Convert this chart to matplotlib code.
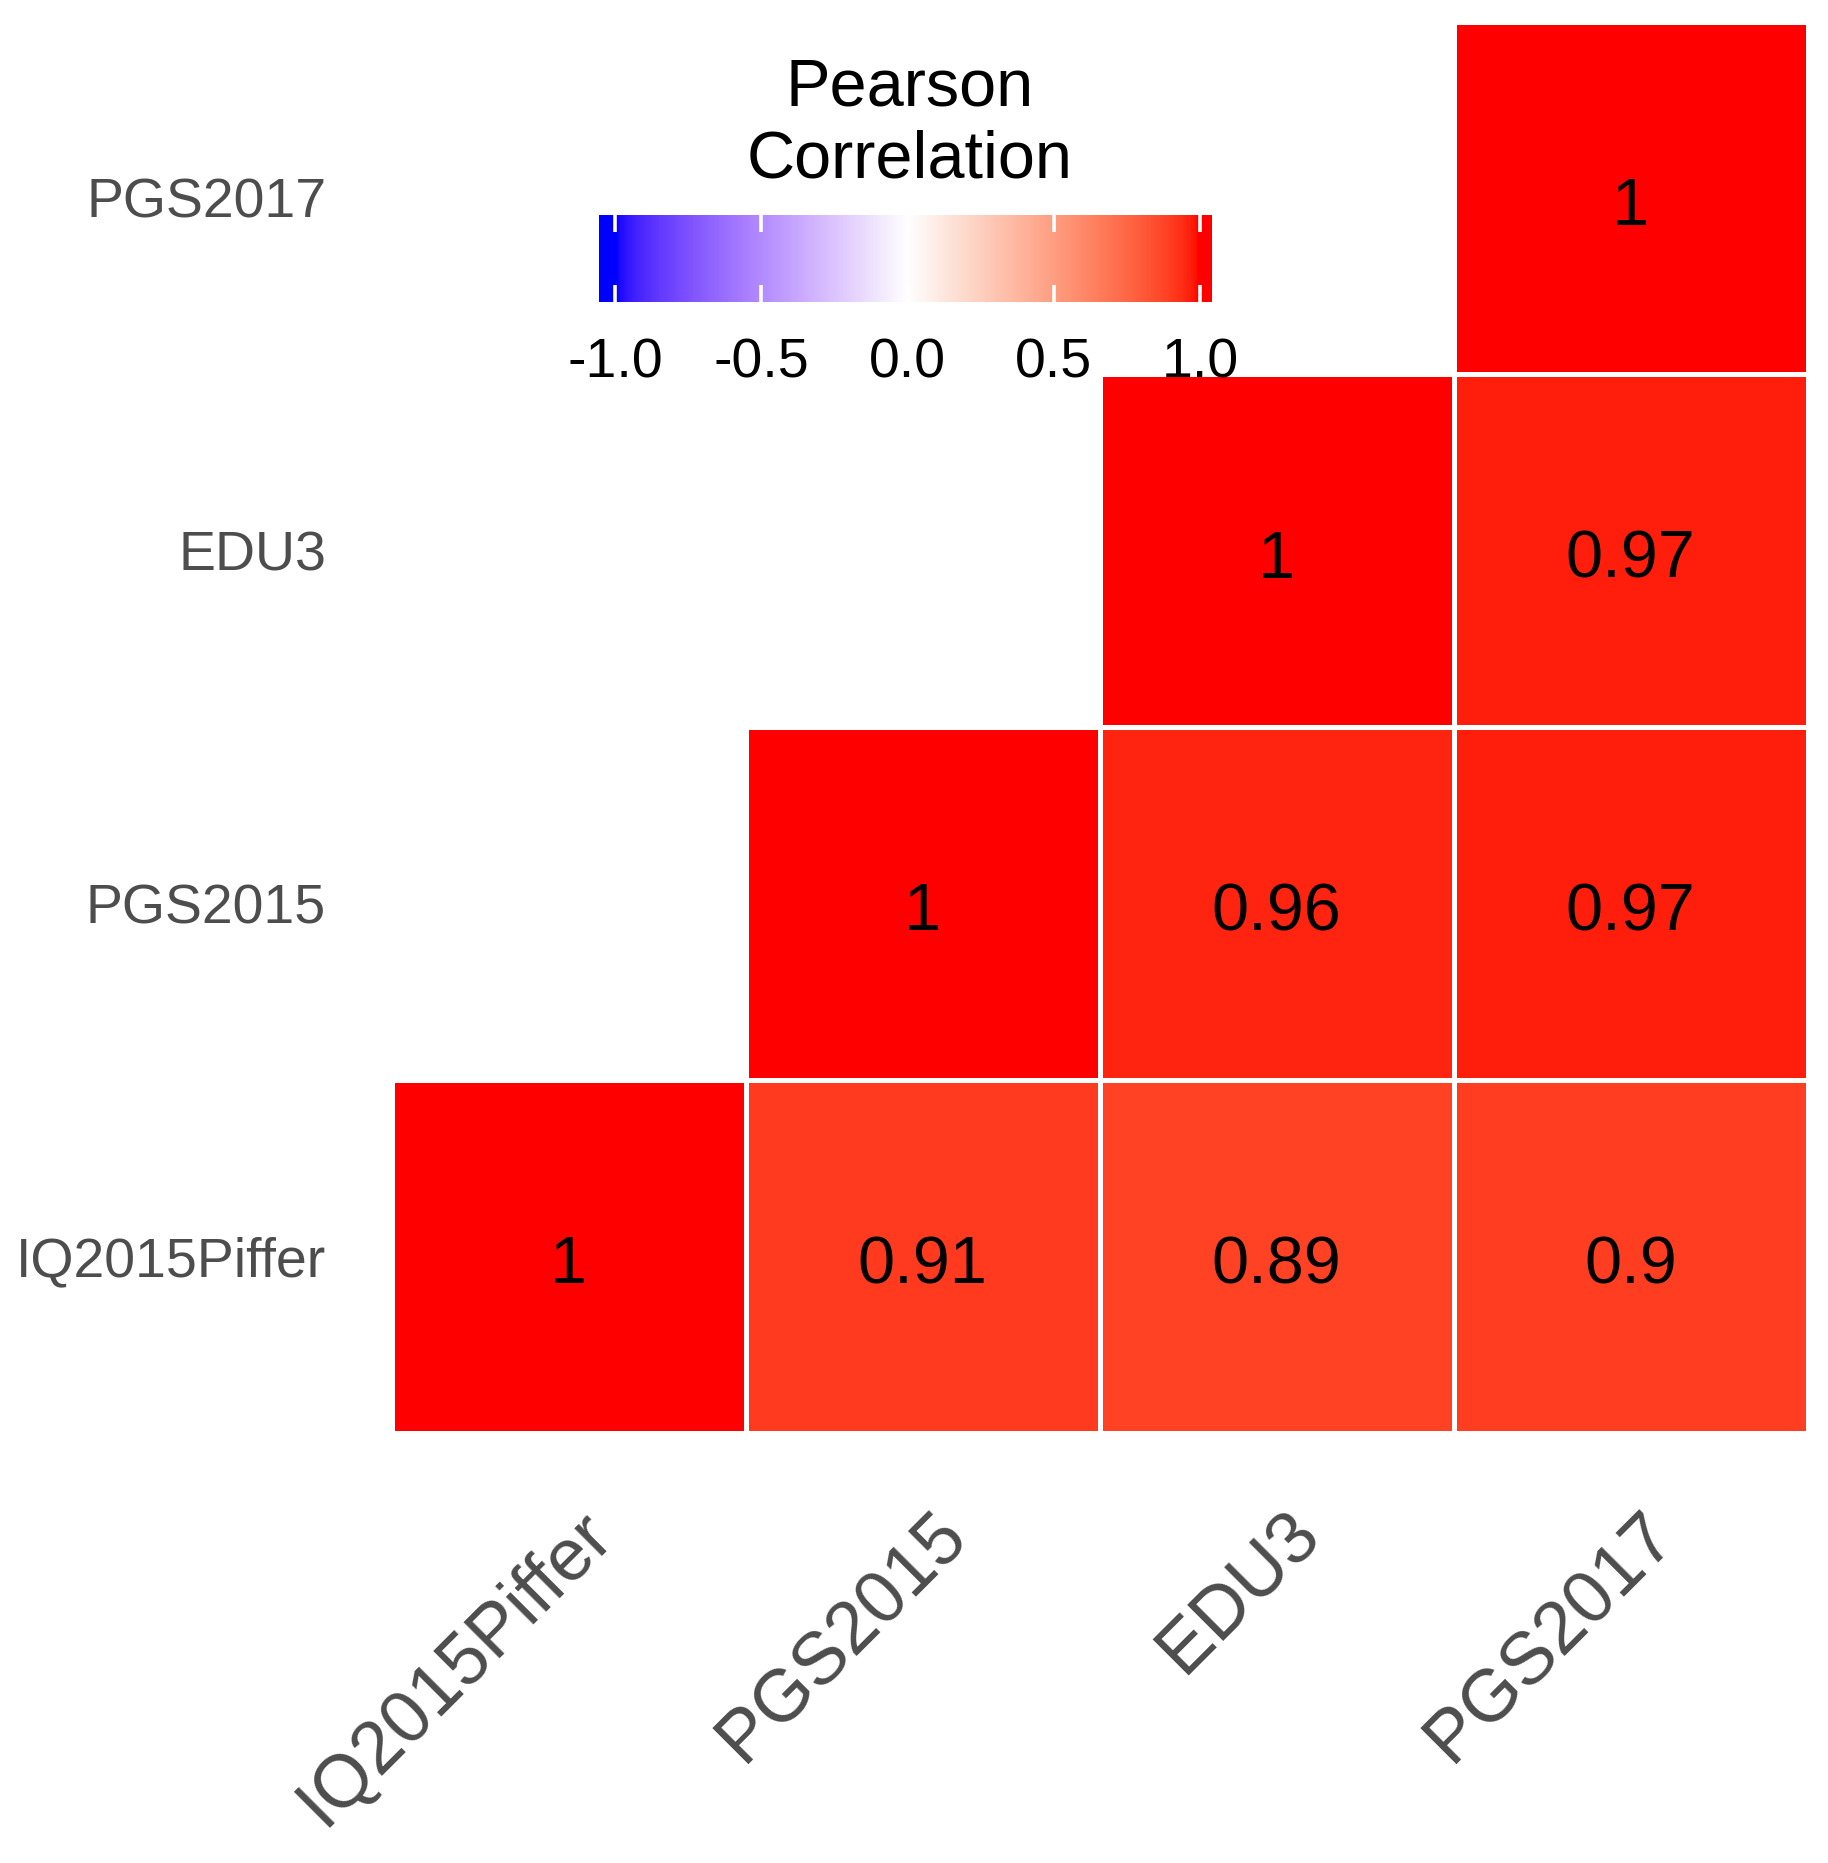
import numpy as np
import matplotlib
matplotlib.use("Agg")
import matplotlib.pyplot as plt
from matplotlib.colors import ListedColormap
from matplotlib.transforms import ScaledTranslation

plt.rcParams['font.family'] = ['Liberation Sans', 'DejaVu Sans']

# ---------------- data ----------------
variables = ['IQ2015Piffer', 'PGS2015', 'EDU3', 'PGS2017']
# upper-triangle correlations (row = y variable, col = x variable), NaN = not shown
corr = np.array([
    [1.00, 0.91, 0.89, 0.90],        # IQ2015Piffer
    [np.nan, 1.00, 0.96, 0.97],      # PGS2015
    [np.nan, np.nan, 1.00, 0.97],    # EDU3
    [np.nan, np.nan, np.nan, 1.00],  # PGS2017
])
corr_labels = [
    ['1', '0.91', '0.89', '0.9'],
    ['', '1', '0.96', '0.97'],
    ['', '', '1', '0.97'],
    ['', '', '', '1'],
]
legend_ticks = [-1.0, -0.5, 0.0, 0.5, 1.0]
legend_tick_labels = ['-1.0', '-0.5', '0.0', '0.5', '1.0']
legend_title = ['Pearson', 'Correlation']

# ---------------- colour scale (Lab interpolation, like ggplot gradient2) ----------------
def srgb_to_lab(rgb):
    rgb = np.asarray(rgb, float)
    lin = np.where(rgb <= 0.04045, rgb / 12.92, ((rgb + 0.055) / 1.055) ** 2.4)
    M = np.array([[0.4124564, 0.3575761, 0.1804375],
                  [0.2126729, 0.7151522, 0.0721750],
                  [0.0193339, 0.1191920, 0.9503041]])
    xyz = lin @ M.T
    wp = np.array([0.95047, 1.0, 1.08883])
    t = xyz / wp
    f = np.where(t > (6 / 29) ** 3, np.cbrt(t), t / (3 * (6 / 29) ** 2) + 4 / 29)
    L = 116 * f[..., 1] - 16
    a = 500 * (f[..., 0] - f[..., 1])
    b = 200 * (f[..., 1] - f[..., 2])
    return np.stack([L, a, b], -1)

def lab_to_srgb(lab):
    lab = np.asarray(lab, float)
    fy_ = (lab[..., 0] + 16) / 116
    fx_ = fy_ + lab[..., 1] / 500
    fz_ = fy_ - lab[..., 2] / 200
    f = np.stack([fx_, fy_, fz_], -1)
    t = np.where(f > 6 / 29, f ** 3, 3 * (6 / 29) ** 2 * (f - 4 / 29))
    xyz = t * np.array([0.95047, 1.0, 1.08883])
    Minv = np.array([[3.2404542, -1.5371385, -0.4985314],
                     [-0.9692660, 1.8760108, 0.0415560],
                     [0.0556434, -0.2040259, 1.0572252]])
    lin = np.clip(xyz @ Minv.T, 0, 1)
    rgb = np.where(lin <= 0.0031308, 12.92 * lin, 1.055 * lin ** (1 / 2.4) - 0.055)
    return np.clip(rgb, 0, 1)

lab_blue = srgb_to_lab([0, 0, 1])
lab_white = srgb_to_lab([1, 1, 1])
lab_red = srgb_to_lab([1, 0, 0])
n = 512
s = np.linspace(-1, 1, n)
labs = np.where(s[:, None] < 0,
                lab_white + (-s[:, None]) * (lab_blue - lab_white),
                lab_white + s[:, None] * (lab_red - lab_white))
cmap = ListedColormap(lab_to_srgb(labs))

# ---------------- figure ----------------
W, H = 1828, 1863
fig = plt.figure(figsize=(W / 100, H / 100), dpi=100)

def fx(px):
    return px / W

def fy(py):
    return 1 - py / H

# main heatmap axes (pixel box of tile grid)
L, R, T, B = 391.5, 1807.5, 21.5, 1432.5
ax = fig.add_axes([fx(L), fy(B), fx(R - L), (B - T) / H])
ax.pcolormesh(np.arange(5) - 0.5, np.arange(5) - 0.5,
              np.ma.masked_invalid(corr), cmap=cmap, vmin=-1, vmax=1,
              edgecolors='white', linewidth=2.3)
num_offset = ScaledTranslation(0, -19.5 / 72, fig.dpi_scale_trans)
for i in range(4):
    for j in range(4):
        if corr_labels[i][j]:
            ax.text(j, i, corr_labels[i][j], ha='center', va='baseline',
                    fontsize=48, color='black',
                    transform=ax.transData + num_offset)
ax.set_xlim(-0.5, 3.5)
ax.set_ylim(-0.5, 3.5)
for sp in ax.spines.values():
    sp.set_visible(False)
ax.set_xticks(range(4))
ax.set_xticklabels(variables, fontsize=53, color='#4D4D4D')
ax.set_yticks(range(4))
ax.set_yticklabels(variables, fontsize=40, color='#4D4D4D')
ax.tick_params(axis='y', length=0, pad=47)
ax.tick_params(axis='x', length=0, pad=48)
xshift = ScaledTranslation(8 / 100, 0, fig.dpi_scale_trans)
for lbl in ax.get_xticklabels():
    lbl.set_rotation(45)
    lbl.set_ha('right')
    lbl.set_va('top')
    lbl.set_rotation_mode('anchor')
    lbl.set_transform(lbl.get_transform() + xshift)

# ---------------- colourbar legend ----------------
cb_l, cb_r, cb_t, cb_b = 599, 1212, 215, 302
x_m1, x_p1 = 615.3, 1200.0
ppu = (x_p1 - x_m1) / 2
vmin_ax = -1 - (x_m1 - cb_l) / ppu
vmax_ax = 1 + (cb_r - x_p1) / ppu
cax = fig.add_axes([fx(cb_l), fy(cb_b), fx(cb_r - cb_l), (cb_b - cb_t) / H])
grad = np.clip(np.linspace(vmin_ax, vmax_ax, 800), -1, 1)[None, :]
cax.imshow(grad, cmap=cmap, vmin=-1, vmax=1, aspect='auto',
           extent=(vmin_ax, vmax_ax, 0, 1), interpolation='nearest')
cax.set_xlim(vmin_ax, vmax_ax)
cax.set_ylim(0, 1)
for t in legend_ticks:
    cax.plot([t, t], [0, 0.2], color='white', lw=2.6, solid_capstyle='butt')
    cax.plot([t, t], [0.8, 1], color='white', lw=2.6, solid_capstyle='butt')
cax.axis('off')

for t, lab in zip(legend_ticks, legend_tick_labels):
    xpix = x_m1 + (t + 1) * ppu
    fig.text(fx(xpix), fy(363), lab, ha='center', va='center',
             fontsize=40, color='black')

cx = 910
fig.text(fx(cx), fy(106), legend_title[0], ha='center', va='baseline',
         fontsize=48, color='black')
fig.text(fx(cx), fy(178), legend_title[1], ha='center', va='baseline',
         fontsize=48, color='black')

fig.savefig('out.png', dpi=100, facecolor='white')
